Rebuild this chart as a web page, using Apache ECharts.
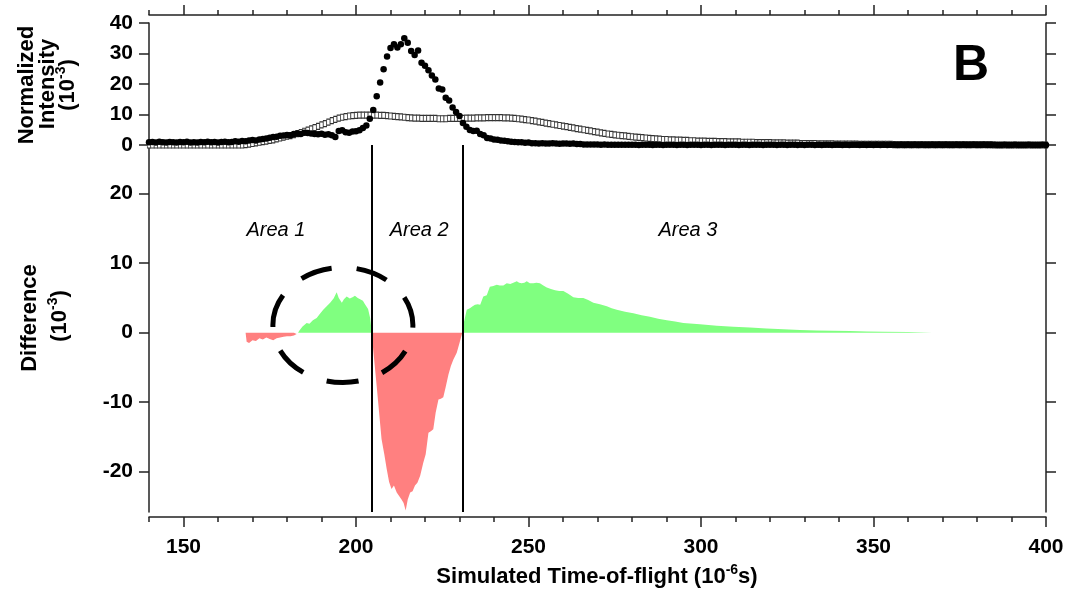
<!DOCTYPE html>
<html>
<head>
<meta charset="utf-8">
<script src="https://cdn.jsdelivr.net/npm/echarts@6/dist/echarts.min.js"></script>
<style>
  html, body { margin: 0; padding: 0; background: #fff; }
  #chart { width: 1073px; height: 589px; }
</style>
</head>
<body>
<div id="chart"></div>
<script>
// Intensity traces are sampled once per microsecond from tofStart to tofEnd
const tofStart = 140;
const tofEnd = 400;

// Measured normalized intensity (10^-3), filled dots
const measuredIntensity = [
  0.9, 1.0, 0.8, 1.1, 0.9, 0.8, 1.0, 0.9, 0.8, 1.0,
  0.9, 1.1, 0.8, 0.9, 0.8, 1.0, 0.9, 1.1, 0.9, 1.0,
  0.8, 1.0, 1.1, 0.9, 1.0, 1.2, 1.1, 1.3, 1.2, 1.5,
  1.6, 1.5, 1.8, 2.0, 2.1, 2.4, 2.6, 2.7, 3.0, 3.1,
  3.3, 3.2, 3.6, 3.8, 3.6, 4.0, 3.9, 3.8, 3.6, 3.5,
  3.7, 3.4, 3.5, 3.2, 2.6, 4.6, 4.8, 4.2, 4.0, 4.4,
  4.5, 4.8, 5.6, 6.4, 8.6, 11.5, 16.0, 20.5, 24.8, 29.0,
  31.8, 33.0, 32.0, 33.0, 35.0, 33.5, 30.8, 29.5, 31.0, 27.0,
  26.0, 24.5, 22.8, 21.5, 18.5, 18.2, 15.5, 14.6, 12.3, 10.8,
  9.5, 7.2, 6.0, 4.9, 4.6, 4.7, 3.6, 3.2, 2.3, 2.1,
  1.8, 1.7, 1.5, 1.4, 1.2, 1.1, 1.0, 0.9, 0.9, 0.7,
  0.8, 0.6, 0.6, 0.5, 0.6, 0.5, 0.5, 0.6, 0.5, 0.4,
  0.5, 0.5, 0.4, 0.5, 0.3, 0.3, 0.2, 0.2, 0.2, 0.2,
  0.2, 0.1, 0.2, 0.1, 0.1, 0.1, 0.1, 0.1, 0.1, 0.1,
  0.1, 0.1, 0.0, 0.1, 0.1, 0.1, 0.0, 0.1, 0.1, 0.0,
  0.1, 0.1, 0.1, 0.0, 0.1, 0.1, 0.0, 0.1, 0.1, 0.1,
  0.0, 0.1, 0.1, 0.0, 0.1, 0.1, 0.1, 0.0, 0.1, 0.1,
  0.1, 0.0, 0.1, 0.1, 0.0, 0.1, 0.1, 0.1, 0.0, 0.1,
  0.1, 0.1, 0.0, 0.1, 0.1, 0.0, 0.1, 0.1, 0.0, 0.1,
  0.0, 0.1, 0.1, 0.0, 0.1, 0.0, 0.1, 0.1, 0.0, 0.1,
  0.1, 0.0, 0.1, 0.0, 0.1, 0.1, 0.0, 0.1, 0.0, 0.1,
  0.0, 0.1, 0.0, 0.1, 0.0, 0.1, 0.1, 0.0, 0.1, 0.0,
  0.1, 0.0, 0.1, 0.0, 0.1, 0.0, 0.0, 0.1, 0.0, 0.1,
  0.0, 0.1, 0.0, 0.0, 0.1, 0.0, 0.1, 0.0, 0.0, 0.1,
  0.0, 0.0, 0.1, 0.0, 0.0, 0.1, 0.0, 0.0, 0.1, 0.0,
  0.0, 0.1, 0.0, 0.0, 0.0, 0.1, 0.0, 0.0, 0.0, 0.1,
  0.0
];

// Simulated normalized intensity (10^-3), open squares
const simulatedIntensity = [
  0.0, 0.0, 0.0, 0.0, 0.0, 0.0, 0.0, 0.0, 0.0, 0.0,
  0.0, 0.0, 0.0, 0.0, 0.0, 0.0, 0.0, 0.0, 0.0, 0.0,
  0.0, 0.0, 0.0, 0.0, 0.0, 0.0, 0.0, 0.0, 0.1, 0.3,
  0.5, 0.7, 0.9, 1.1, 1.3, 1.5, 1.7, 2.0, 2.3, 2.6,
  2.9, 3.1, 3.4, 3.7, 4.1, 4.5, 4.9, 5.3, 5.7, 6.1,
  6.6, 7.0, 7.5, 8.0, 8.4, 8.8, 9.1, 9.3, 9.5, 9.6,
  9.7, 9.8, 9.8, 9.8, 9.8, 9.8, 9.8, 9.7, 9.7, 9.6,
  9.5, 9.4, 9.3, 9.2, 9.1, 9.0, 8.9, 8.8, 8.8, 8.7,
  8.7, 8.7, 8.7, 8.7, 8.6, 8.6, 8.6, 8.7, 8.7, 8.7,
  8.7, 8.7, 8.8, 8.8, 8.8, 8.9, 8.9, 8.9, 9.0, 9.0,
  9.0, 9.0, 9.0, 8.9, 8.9, 8.8, 8.7, 8.6, 8.5, 8.3,
  8.2, 8.0, 7.8, 7.6, 7.4, 7.2, 7.0, 6.8, 6.6, 6.4,
  6.2, 6.0, 5.8, 5.6, 5.4, 5.2, 5.0, 4.8, 4.6, 4.4,
  4.2, 4.0, 3.8, 3.6, 3.5, 3.3, 3.2, 3.1, 3.0, 2.8,
  2.7, 2.6, 2.5, 2.4, 2.3, 2.2, 2.1, 2.0, 1.9, 1.8,
  1.8, 1.7, 1.7, 1.6, 1.6, 1.5, 1.5, 1.4, 1.4, 1.3,
  1.3, 1.3, 1.2, 1.2, 1.2, 1.1, 1.1, 1.1, 1.0, 1.0,
  1.0, 1.0, 0.9, 0.9, 0.9, 0.9, 0.8, 0.8, 0.8, 0.8,
  0.8, 0.7, 0.7, 0.7, 0.7, 0.6, 0.6, 0.6, 0.6, 0.5,
  0.5, 0.5, 0.5, 0.5, 0.4, 0.4, 0.4, 0.4, 0.4, 0.3,
  0.3, 0.3, 0.3, 0.3, 0.3, 0.3, 0.2, 0.2, 0.2, 0.2,
  0.2, 0.2, 0.2, 0.2, 0.2, 0.2, 0.1, 0.1, 0.1, 0.1,
  0.1, 0.1, 0.1, 0.1, 0.1, 0.1, 0.1, 0.1, 0.1, 0.1,
  0.1, 0.1, 0.1, 0.1, 0.1, 0.1, 0.1, 0.1, 0.1, 0.1,
  0.1, 0.1, 0.1, 0.1, 0.1, 0.0, 0.0, 0.0, 0.0, 0.0,
  0.0, 0.0, 0.0, 0.0, 0.0, 0.0, 0.0, 0.0, 0.0, 0.0,
  0.0
];

// Difference trace (simulated - measured, 10^-3) and its time stamps
const diffTime = [
  168.0, 168.3, 169.0, 170.0, 171.0, 172.0, 173.0, 174.0, 175.0, 176.0,
  177.0, 178.0, 179.0, 180.0, 181.0, 182.0, 182.8, 183.2, 183.6, 184.5,
  185.7, 186.5, 187.5, 188.6, 189.5, 190.5, 191.5, 192.5, 193.5, 194.4,
  195.0, 195.9, 196.5, 197.3, 198.2, 199.0, 199.7, 200.5, 201.2, 202.0,
  202.6, 203.5, 204.1, 204.6, 205.0, 206.0, 207.4, 208.2, 208.9, 209.6,
  210.3, 211.0, 211.8, 212.5, 213.2, 213.8, 214.4, 215.0, 215.7, 216.4,
  217.1, 217.8, 218.6, 219.5, 220.2, 221.0, 221.7, 222.4, 223.1, 223.9,
  224.6, 225.3, 226.0, 226.8, 227.5, 228.2, 229.2, 230.0, 230.8, 231.1,
  232.1, 233.0, 233.8, 234.5, 235.3, 236.0, 236.9, 237.9, 238.8, 239.8,
  240.8, 241.7, 242.7, 243.7, 244.7, 245.6, 246.6, 247.3, 248.0, 248.8,
  249.5, 250.4, 251.4, 252.3, 253.3, 254.3, 255.3, 256.5, 257.7, 258.9,
  260.1, 261.5, 263.0, 264.4, 265.9, 267.3, 268.8, 270.7, 272.7, 274.1,
  275.6, 278.0, 280.4, 282.8, 285.2, 287.6, 290.1, 292.5, 294.9, 299.7,
  304.6, 309.4, 314.2, 319.0, 323.9, 328.7, 333.5, 338.3, 343.2, 348.0,
  352.8, 360.0, 367.0, 367.1
];
const diffValue = [
  0, -1.3, -1.5, -1.1, -1.2, -0.8, -1.0, -0.7, -0.9, -1.1,
  -0.8, -0.7, -0.6, -0.5, -0.5, -0.4, -0.2, 0, 0.3, 0.9,
  1.4, 1.3, 1.8, 2.1, 2.7, 3.3, 3.8, 4.3, 4.9, 5.8,
  5.0, 4.3, 4.8, 5.2, 4.9, 5.1, 5.3, 5.0, 4.8, 4.6,
  4.1, 3.4, 2.1, 0, -2.5, -7.7, -15.3, -17.5, -19.6, -21.5,
  -22.5, -22.0, -23.0, -23.5, -24.0, -24.5, -25.6, -24.0, -23.0, -22.8,
  -22.0, -21.6, -20.6, -18.7, -17.5, -14.4, -14.2, -13.9, -11.5, -9.6,
  -9.5, -9.3, -7.8, -6.0, -4.8, -3.9, -2.9, -1.5, 0, 1.1,
  3.3, 3.5, 3.8, 4.0, 4.1, 4.0, 5.2, 5.4, 6.6, 6.7,
  6.9, 6.8, 6.8, 7.1, 7.0, 7.2, 7.4, 7.2, 7.1, 7.2,
  7.4, 7.1, 7.1, 7.2, 7.1, 6.8, 6.5, 6.3, 6.1, 6.0,
  6.0, 5.6, 5.1, 5.0, 5.0, 4.7, 4.3, 4.1, 3.8, 3.5,
  3.3, 3.0, 2.8, 2.5, 2.3, 2.0, 1.8, 1.6, 1.4, 1.2,
  1.0, 0.85, 0.76, 0.6, 0.5, 0.4, 0.3, 0.27, 0.25, 0.17,
  0.12, 0.08, 0.05, 0
];

// Boundaries between Area 1 / Area 2 / Area 3
const areaBounds = [204.6, 230.8];
const areaNames = ['Area 1', 'Area 2', 'Area 3'];
const xTickLabels = [150, 200, 250, 300, 350, 400];
const diffTickLabels = [-20, -10, 0, 10, 20];
// Center of the dashed ring that highlights the Area 1 excess
const highlightCenter = [196.2, 1.1];

const FONT = '"Liberation Sans", Arial, Helvetica, sans-serif';
const AXIS_COLOR = '#222';

const measuredPoints = measuredIntensity.map((v, i) => [tofStart + i, v]);
const simulatedPoints = simulatedIntensity.map((v, i) => [tofStart + i, v]);
const positivePoints = diffTime.map((t, i) => [t, diffValue[i] >= 0 ? diffValue[i] : null]);
const negativePoints = diffTime.map((t, i) => [t, diffValue[i] <= 0 ? diffValue[i] : null]);

const axisLine = { show: true, onZero: false, lineStyle: { color: AXIS_COLOR, width: 1.5 } };
const noLine = { show: false, onZero: false };
const tickStyle = { color: AXIS_COLOR, width: 1.5 };
const tickLabel = { fontFamily: FONT, fontWeight: 'bold', fontSize: 21, color: '#000' };

const chart = echarts.init(document.getElementById('chart'), null, { renderer: 'canvas' });

const option = {
  animation: false,
  backgroundColor: '#fff',
  grid: [
    { left: 149, right: 27, top: 23, height: 122 },
    { left: 149, right: 27, top: 145, height: 367 }
  ],
  xAxis: [
    { // top edge: minor ticks every 10
      gridIndex: 0, type: 'value', position: 'top', offset: 8,
      min: tofStart, max: tofEnd, interval: 10,
      axisLine: axisLine,
      axisTick: { show: true, length: 5, lineStyle: tickStyle },
      axisLabel: { show: false }, splitLine: { show: false }
    },
    { // top edge: major ticks
      gridIndex: 0, type: 'value', position: 'top', offset: 8,
      min: tofStart, max: tofEnd,
      axisLine: noLine,
      axisTick: { show: true, length: 10, customValues: xTickLabels, lineStyle: tickStyle },
      axisLabel: { show: false }, splitLine: { show: false }
    },
    { // bottom edge: minor ticks every 10
      gridIndex: 1, type: 'value', position: 'bottom', offset: 5,
      min: tofStart, max: tofEnd, interval: 10,
      axisLine: axisLine,
      axisTick: { show: true, length: 5, lineStyle: tickStyle },
      axisLabel: { show: false }, splitLine: { show: false }
    },
    { // bottom edge: major ticks and labels
      gridIndex: 1, type: 'value', position: 'bottom', offset: 5,
      min: tofStart, max: tofEnd,
      axisLine: noLine,
      axisTick: { show: true, length: 10, customValues: xTickLabels, lineStyle: tickStyle },
      axisLabel: Object.assign({ show: true, margin: 20, customValues: xTickLabels }, tickLabel),
      splitLine: { show: false }
    }
  ],
  yAxis: [
    {
      gridIndex: 0, type: 'value', position: 'left',
      min: 0, max: 40, interval: 10,
      axisLine: axisLine,
      axisTick: { show: true, length: 10, lineStyle: tickStyle },
      axisLabel: Object.assign({ show: true, margin: 16 }, tickLabel),
      splitLine: { show: false }
    },
    {
      gridIndex: 0, type: 'value', position: 'right',
      min: 0, max: 40, interval: 10,
      axisLine: axisLine,
      axisTick: { show: true, length: 10, lineStyle: tickStyle },
      axisLabel: { show: false }, splitLine: { show: false }
    },
    {
      gridIndex: 1, type: 'value', position: 'left',
      min: -25.8, max: 27,
      axisLine: axisLine,
      axisTick: { show: true, length: 10, customValues: diffTickLabels, lineStyle: tickStyle },
      axisLabel: Object.assign({ show: true, margin: 16, customValues: diffTickLabels }, tickLabel),
      splitLine: { show: false }
    },
    {
      gridIndex: 1, type: 'value', position: 'right',
      min: -25.8, max: 27,
      axisLine: axisLine,
      axisTick: { show: true, length: 10, customValues: diffTickLabels, lineStyle: tickStyle },
      axisLabel: { show: false }, splitLine: { show: false }
    }
  ],
  series: [
    {
      name: 'Simulated', type: 'scatter', xAxisIndex: 0, yAxisIndex: 0,
      data: simulatedPoints, symbol: 'rect', symbolSize: [3.4, 6],
      itemStyle: { color: '#fff', borderColor: '#333', borderWidth: 0.9, opacity: 1 },
      z: 2
    },
    {
      name: 'Measured', type: 'scatter', xAxisIndex: 0, yAxisIndex: 0,
      data: measuredPoints, symbol: 'circle', symbolSize: 6.5,
      itemStyle: { color: '#000', opacity: 1 },
      z: 3
    },
    {
      name: 'Excess', type: 'line', xAxisIndex: 2, yAxisIndex: 2,
      data: positivePoints, showSymbol: false, connectNulls: false,
      lineStyle: { width: 0 },
      areaStyle: { color: '#80ff80', opacity: 1, origin: 0 },
      z: 2
    },
    {
      name: 'Deficit', type: 'line', xAxisIndex: 2, yAxisIndex: 2,
      data: negativePoints, showSymbol: false, connectNulls: false,
      lineStyle: { width: 0 },
      areaStyle: { color: '#ff8080', opacity: 1, origin: 0 },
      markLine: {
        silent: true, symbol: 'none', label: { show: false },
        lineStyle: { color: '#000', width: 2, type: 'solid' },
        data: areaBounds.map(v => ({ xAxis: v }))
      },
      z: 2
    }
  ]
};

chart.setOption(option);

// Annotations: rotated axis titles, panel letter, area names and dashed ring
const sup = { fontFamily: FONT, fontWeight: 'bold', fontSize: 14, padding: [0, 0, 13, 0] };
function titleText(x, y, text, rotated) {
  return {
    type: 'text', x: x, y: y, rotation: rotated ? Math.PI / 2 : 0, z: 50,
    style: {
      text: text, fill: '#000',
      font: 'bold 22px ' + FONT,
      textAlign: 'center', textVerticalAlign: 'middle',
      align: 'center', verticalAlign: 'middle',
      rich: { sup: sup }
    }
  };
}

const ringCenter = chart.convertToPixel({ xAxisIndex: 2, yAxisIndex: 2 }, highlightCenter);
const areaY = chart.convertToPixel({ yAxisIndex: 2 }, 14.7);
const areaX = [176.8, 218.3, 296.2].map(v => chart.convertToPixel({ xAxisIndex: 2 }, v));

const graphics = [
  titleText(27, 85, 'Normalized', true),
  titleText(48, 84, 'Intensity', true),
  titleText(68, 85, '(10{sup|-3})', true),
  titleText(30, 318, 'Difference', true),
  titleText(60, 316, '(10{sup|-3})', true),
  titleText(597, 577, 'Simulated Time-of-flight (10{sup|-6}s)', false),
  {
    type: 'text', x: 971, y: 66, z: 50,
    style: {
      text: 'B', fill: '#000', font: 'bold 50px ' + FONT,
      textAlign: 'center', textVerticalAlign: 'middle', align: 'center', verticalAlign: 'middle'
    }
  },
  {
    type: 'ellipse', z: 60,
    shape: { cx: ringCenter[0], cy: ringCenter[1], rx: 70, ry: 57.5 },
    style: { fill: 'none', stroke: '#000', lineWidth: 5, lineDash: [32, 25] }
  }
];
areaNames.forEach((name, i) => {
  graphics.push({
    type: 'text', x: areaX[i], y: areaY, z: 50,
    style: {
      text: name, fill: '#000', font: 'italic 20px ' + FONT,
      textAlign: 'center', textVerticalAlign: 'middle', align: 'center', verticalAlign: 'middle'
    }
  });
});

chart.setOption({ graphic: { elements: graphics } });
</script>
</body>
</html>
